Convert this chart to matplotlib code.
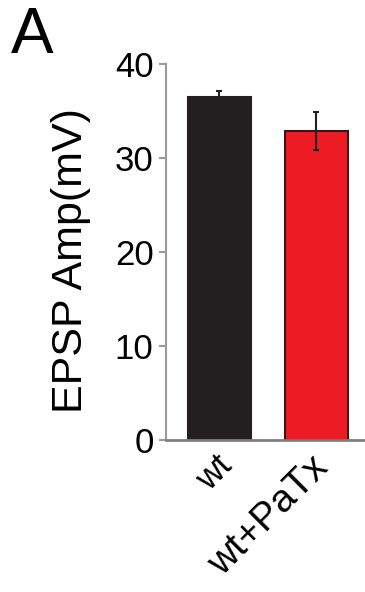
# EPSP amplitude bar chart, panel A

import matplotlib.pyplot as plt
from matplotlib import transforms

plt.rcParams['font.family'] = ['Liberation Sans', 'DejaVu Sans']

groups = ['wt', 'wt+PaTx']
amp_mean = [36.5, 32.9]
amp_err = [0.6, 2.0]
bar_colors = ['#231F20', '#ED1C24']
yticks = [0, 10, 20, 30, 40]

fig = plt.figure(figsize=(3.65, 5.92), dpi=100)
ax = fig.add_axes([0.4548, 0.2568, 0.5452, 0.6351])

x = list(range(len(groups)))
ax.bar(x, amp_mean, width=0.65, color=bar_colors, edgecolor='#231F20',
       linewidth=1.5, zorder=2)
ax.errorbar(x, amp_mean, yerr=amp_err, fmt='none', ecolor='#231F20',
            elinewidth=1.5, capsize=2.2, capthick=1.5, zorder=3)

ax.set_xlim(-0.55, 1.5)
ax.set_ylim(0, 40)
ax.set_yticks(yticks)
ax.set_yticklabels([str(t) for t in yticks], fontsize=25)
ax.set_xticks(x)
ax.set_xticklabels([])

# group names rotated 45 degrees, ending a little right of each bar centre
offset = transforms.ScaledTranslation(0.19, -0.09, fig.dpi_scale_trans)
trans = transforms.blended_transform_factory(ax.transData, ax.transAxes) + offset
label_sizes = [25, 28]
for xi, name, fs in zip(x, groups, label_sizes):
    ax.text(xi, 0, name, transform=trans, fontsize=fs, rotation=45,
            ha='right', va='top')

for side in ['top', 'right']:
    ax.spines[side].set_visible(False)
ax.spines['left'].set_color('#9A9A9A')
ax.spines['left'].set_linewidth(1.5)
ax.spines['bottom'].set_color('#808080')
ax.spines['bottom'].set_linewidth(2)
ax.tick_params(axis='y', colors='#9A9A9A', length=5, width=1.5, pad=4,
               labelcolor='black')
ax.tick_params(axis='x', length=0)

ax.set_ylabel('EPSP Amp(mV)', fontsize=31)
ax.yaxis.set_label_coords(-0.375, 0.478)
fig.text(0.03, 0.99, 'A', fontsize=46, va='top', ha='left')

plt.savefig('out.png', dpi=100)
